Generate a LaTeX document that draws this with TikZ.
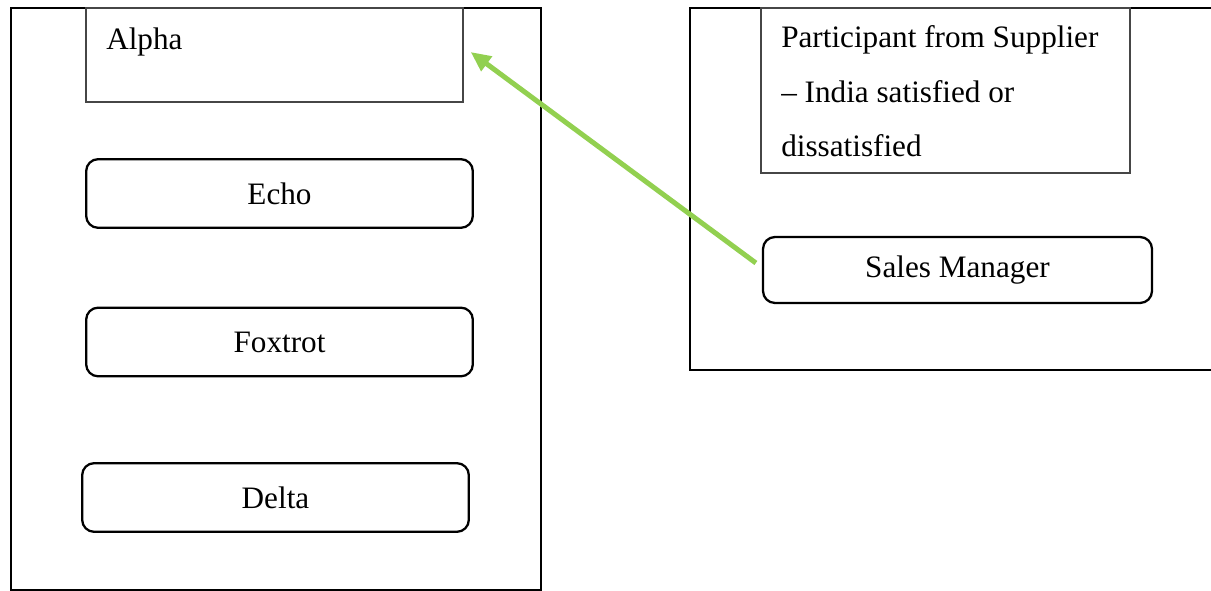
\documentclass[tikz,border=0pt]{standalone}
\usepackage{fontspec}
\setmainfont{Liberation Serif}
\usetikzlibrary{arrows.meta}
\definecolor{arrowgreen}{RGB}{146,208,80}
\definecolor{boxgray}{RGB}{70,70,70}
\begin{document}
\begin{tikzpicture}[x=0.75pt,y=-0.75pt,
  panel/.style={draw=black,line width=1.6pt},
  thinbox/.style={draw=boxgray,line width=1pt,rectangle,inner sep=0pt},
  rolebox/.style={draw=black,line width=1.7pt,rectangle,rounded corners=9pt,
    minimum width=290pt,minimum height=51.5pt,inner sep=0pt},
  bigtext/.style={font=\fontsize{23.4pt}{40.9pt}\selectfont},
  linkarrow/.style={draw=arrowgreen,line width=3.75pt,
    -{Triangle[length=15pt,width=13pt]}}]
\useasboundingbox (0,0) rectangle (1211,591);
\fill[white] (0,0) rectangle (1211,591);
\clip (0,0) rectangle (1211,591);

% two containing panels
\draw[panel] (11,8) rectangle (541,590);
\draw[panel] (690,8) rectangle (1220,370);

% left panel contents
\node[thinbox,minimum width=282.75pt,minimum height=70.5pt] (alpha) at (274.5,55) {};
\node[bigtext,anchor=base west,inner sep=0pt] (alphatext) at (106,50) {Alpha};
\node[rolebox,bigtext] (echo) at (279.5,193.5) {Echo};
\node[rolebox,bigtext] (foxtrot) at (279.5,342) {Foxtrot};
\node[rolebox,bigtext] (delta) at (275.5,497.5) {Delta};

% right panel contents (the base anchor sits on the last line)
\node[thinbox,minimum width=276.75pt,minimum height=123.75pt] (participant) at (945.5,90.5) {};
\node[bigtext,anchor=base west,align=left,inner sep=0pt] (participanttext) at (781,157)
  {Participant from Supplier\\– India satisfied or\\dissatisfied};
\node[rolebox,bigtext,minimum width=291.75pt,minimum height=49.5pt] (sales) at (957.5,270) {Sales Manager};

% link from the sales manager back to Alpha
\draw[linkarrow] ([shift={(-6,-7)}]sales.west) -- ([shift={(7,-3)}]alpha.east);
\end{tikzpicture}
\end{document}
